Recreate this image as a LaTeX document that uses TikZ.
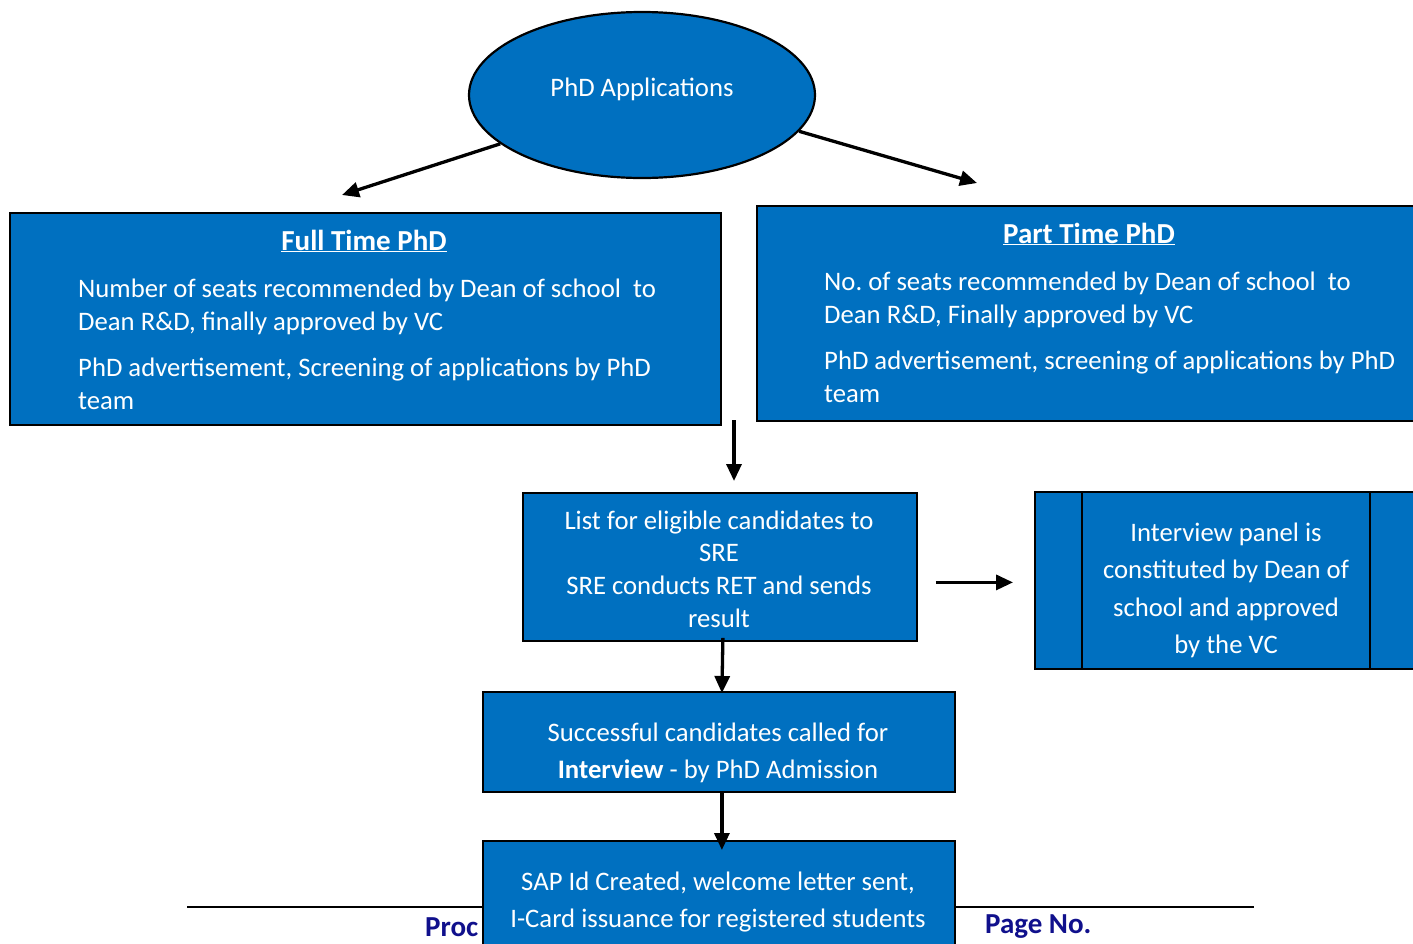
\documentclass[tikz,border=0pt]{standalone}
\usepackage{fontspec}
\setmainfont{Carlito}
\usetikzlibrary{arrows.meta,shapes.geometric,calc}
\definecolor{boxblue}{RGB}{0,112,192}
\definecolor{footblue}{RGB}{16,16,140}
\begin{document}
\begin{tikzpicture}[x=1pt,y=-1pt,
  box/.style={draw=black,line width=1.8pt,fill=boxblue,inner sep=0pt,anchor=north west},
  body/.style={text=white,font=\fontsize{26.7}{33}\selectfont,inner sep=0pt},
  head/.style={text=white,font=\fontsize{29}{33}\bfseries\selectfont,inner sep=0pt},
  arr/.style={line width=3.3pt,-{Triangle[length=17pt,width=15pt]}},
  foot/.style={text=footblue,font=\fontsize{29}{33}\bfseries\selectfont,inner sep=0pt},
]
\useasboundingbox (0,0) rectangle (1413,943);

% page footer (sits behind the last box)
\draw[line width=1.4pt] (187,907) coordinate (fl) -- (1254,907) coordinate (fr);
\node[foot,anchor=west] (proc) at (425,927) {Proc};
\node[foot,anchor=west] (pageno) at (985,927) {Page No.};

% start node
\node[ellipse,draw=black,line width=2.2pt,fill=boxblue,minimum width=346pt,minimum height=166pt] (app) at (642,95) {};
\node[body] (apptxt) at (642,89) {PhD Applications};

% full time branch
\node[box,minimum width=711pt,minimum height=212pt] (ft) at (9,212) {};
\node[head] (fttitle) at (364,241) {\underline{Full Time PhD}};
\node[body,anchor=north west,align=left] (fttxt) at (78,278.5)
  {Number of seats recommended by Dean of school\ \ to\\
   Dean R\&D, finally approved by VC\\[13.5pt]
   PhD advertisement, Screening of applications by PhD\\
   team};

% part time branch
\node[box,minimum width=680pt,minimum height=215pt] (pt) at (756,205) {};
\node[head] (pttitle) at (1089,234) {\underline{Part Time PhD}};
\node[body,anchor=north west,align=left] (pttxt) at (824,271.5)
  {No.\ of seats recommended by Dean of school\ \ to\\
   Dean R\&D, Finally approved by VC\\[13pt]
   PhD advertisement, screening of applications by PhD\\
   team};

% eligibility list
\node[box,minimum width=394pt,minimum height=148pt] (list) at (522,492) {};
\node[body,anchor=north,align=center,font=\fontsize{26.7}{32.7}\selectfont] (listtxt) at (719,510.5)
  {List for eligible candidates to\\ SRE\\ SRE conducts RET and sends\\ result};

% interview panel
\node[box,minimum width=400pt,minimum height=177pt] (panel) at (1034,491) {};
\draw[line width=2.6pt] (1082,491) -- (1082,668);
\draw[line width=2.6pt] (1370,491) -- (1370,668);
\node[body,anchor=north,align=center,font=\fontsize{26.7}{37.4}\selectfont] (paneltxt) at (1226,522.5)
  {Interview panel is\\ constituted by Dean of\\ school and approved\\ by the VC};

% interview call
\node[box,minimum width=472pt,minimum height=100pt] (succ) at (482,691) {};
\node[body,anchor=north,align=center,font=\fontsize{26.7}{37}\selectfont] (succtxt) at (718,722.5)
  {Successful candidates called for\\ \textbf{Interview} - by PhD Admission};

% registration
\node[box,minimum width=472pt,minimum height=130pt] (sap) at (482,840) {};
\node[body,anchor=north,align=center,font=\fontsize{26.7}{37}\selectfont] (saptxt) at (718,871.5)
  {SAP Id Created, welcome letter sent,\\ I-Card issuance for registered students};

% connectors
\coordinate (ftend) at (342,195);
\coordinate (ptend) at (977,183);
\coordinate (gapdown) at (734,420);
\coordinate (listin) at (734,481);
\draw[arr] (app.199) -- (ftend);
\draw[arr] (app.347) -- (ptend);
\draw[arr] (gapdown) -- (listin);
\draw[arr] ($(list.east |- panel.west)+(18,2)$) -- ($(panel.west)+(-21,2)$);
\draw[arr] ($(list.south)+(3,-4)$) -- ($(succ.north)+(3,2)$);
\draw[arr] ($(succ.south)+(3,0)$) -- ($(sap.north)+(3,10)$);
\end{tikzpicture}
\end{document}
